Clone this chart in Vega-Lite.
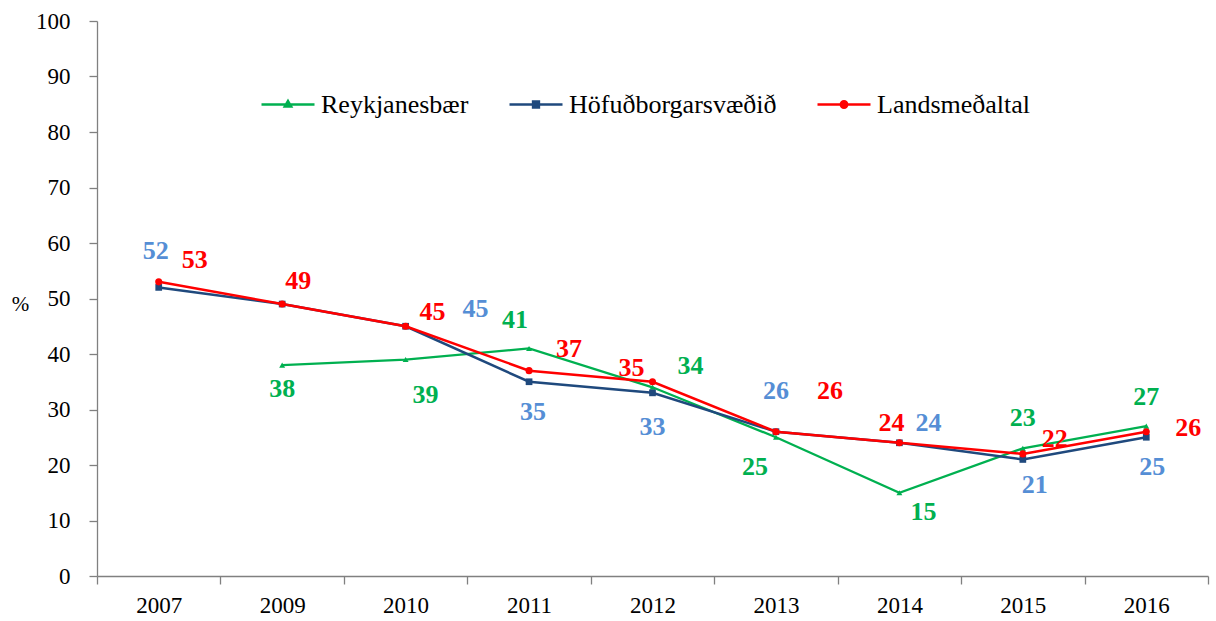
{
  "$schema": "https://vega.github.io/schema/vega-lite/v6.json",
  "width": 1111,
  "height": 555,
  "autosize": {"type": "none"},
  "padding": {"left": 97, "top": 21, "right": 8, "bottom": 45},
  "background": "white",
  "config": {"view": {"stroke": null}, "font": "Liberation Serif"},
  "data": {
    "values": [
      {"series": "Reykjanesbær", "year": "2009", "value": 38},
      {"series": "Reykjanesbær", "year": "2010", "value": 39},
      {"series": "Reykjanesbær", "year": "2011", "value": 41},
      {"series": "Reykjanesbær", "year": "2012", "value": 34},
      {"series": "Reykjanesbær", "year": "2013", "value": 25},
      {"series": "Reykjanesbær", "year": "2014", "value": 15},
      {"series": "Reykjanesbær", "year": "2015", "value": 23},
      {"series": "Reykjanesbær", "year": "2016", "value": 27},
      {"series": "Höfuðborgarsvæðið", "year": "2007", "value": 52},
      {"series": "Höfuðborgarsvæðið", "year": "2009", "value": 49},
      {"series": "Höfuðborgarsvæðið", "year": "2010", "value": 45},
      {"series": "Höfuðborgarsvæðið", "year": "2011", "value": 35},
      {"series": "Höfuðborgarsvæðið", "year": "2012", "value": 33},
      {"series": "Höfuðborgarsvæðið", "year": "2013", "value": 26},
      {"series": "Höfuðborgarsvæðið", "year": "2014", "value": 24},
      {"series": "Höfuðborgarsvæðið", "year": "2015", "value": 21},
      {"series": "Höfuðborgarsvæðið", "year": "2016", "value": 25},
      {"series": "Landsmeðaltal", "year": "2007", "value": 53},
      {"series": "Landsmeðaltal", "year": "2009", "value": 49},
      {"series": "Landsmeðaltal", "year": "2010", "value": 45},
      {"series": "Landsmeðaltal", "year": "2011", "value": 37},
      {"series": "Landsmeðaltal", "year": "2012", "value": 35},
      {"series": "Landsmeðaltal", "year": "2013", "value": 26},
      {"series": "Landsmeðaltal", "year": "2014", "value": 24},
      {"series": "Landsmeðaltal", "year": "2015", "value": 22},
      {"series": "Landsmeðaltal", "year": "2016", "value": 26}
    ]
  },
  "encoding": {
    "x": {
      "field": "year",
      "type": "ordinal",
      "sort": ["2007", "2009", "2010", "2011", "2012", "2013", "2014", "2015", "2016"],
      "scale": {"type": "band", "paddingInner": 0, "paddingOuter": 0, "domain": ["2007", "2009", "2010", "2011", "2012", "2013", "2014", "2015", "2016"]},
      "axis": {
        "title": null,
        "labelAngle": 0,
        "labelFont": "Liberation Serif",
        "labelFontSize": 23,
        "labelColor": "black",
        "tickBand": "extent",
        "tickSize": 8,
        "labelPadding": 10,
        "domainColor": "#808080",
        "tickColor": "#808080",
        "domainWidth": 1.3,
        "tickWidth": 1.3,
        "grid": false
      }
    },
    "y": {
      "field": "value",
      "type": "quantitative",
      "scale": {"domain": [0, 100], "nice": false},
      "axis": {
        "values": [0, 10, 20, 30, 40, 50, 60, 70, 80, 90, 100],
        "title": "%",
        "titleAngle": 0,
        "titleAlign": "center",
        "titleBaseline": "middle",
        "titleX": -77,
        "titleY": 283,
        "titleFont": "Liberation Serif",
        "titleFontSize": 21,
        "titleFontWeight": "normal",
        "titleColor": "black",
        "labelFont": "Liberation Serif",
        "labelFontSize": 23,
        "labelColor": "black",
        "tickSize": 8,
        "labelPadding": 19,
        "domainColor": "#808080",
        "tickColor": "#808080",
        "domainWidth": 1.3,
        "tickWidth": 1.3,
        "grid": false
      }
    }
  },
  "layer": [
    {
      "transform": [{"filter": "datum.series == 'Reykjanesbær'"}],
      "layer": [
        {
          "mark": {"type": "line", "strokeWidth": 2.3},
          "encoding": {
            "color": {
              "field": "series",
              "type": "nominal",
              "scale": {"domain": ["Reykjanesbær", "Höfuðborgarsvæðið", "Landsmeðaltal"], "range": ["#00B050", "#1F497D", "#FF0000"]},
              "legend": {
                "title": null,
                "orient": "none",
                "direction": "horizontal",
                "legendX": 163,
                "legendY": 55.5,
                "symbolSize": 2809,
                "symbolStrokeWidth": 2.5,
                "labelFont": "Liberation Serif",
                "labelFontSize": 26,
                "labelColor": "black",
                "labelLimit": 400,
                "labelOffset": 5,
                "columnPadding": 35,
                "encode": {
                  "symbols": {
                    "update": {
                      "shape": {"signal": "datum.value == 'Reykjanesbær' ? 'M-1,0H1M0,-0.13L0.12,0.08H-0.12Z' : datum.value == 'Höfuðborgarsvæðið' ? 'M-1,0H1M-0.11,-0.11H0.11V0.11H-0.11Z' : 'M-1,0H1M0.12,0A0.12,0.12,0,1,1,-0.12,0A0.12,0.12,0,1,1,0.12,0Z'"},
                      "fill": {"signal": "scale('color', datum.value)"},
                      "stroke": {"signal": "scale('color', datum.value)"},
                      "strokeWidth": {"value": 2.5},
                      "opacity": {"value": 1},
                      "fillOpacity": {"value": 1},
                      "strokeOpacity": {"value": 1}
                    }
                  }
                }
              }
            }
          }
        },
        {
          "mark": {"type": "point", "shape": "triangle-up", "filled": true, "opacity": 1, "size": 35},
          "encoding": {"color": {"field": "series", "type": "nominal"}}
        }
      ]
    },
    {
      "transform": [{"filter": "datum.series == 'Höfuðborgarsvæðið'"}],
      "layer": [
        {
          "mark": {"type": "line", "strokeWidth": 2.5},
          "encoding": {"color": {"field": "series", "type": "nominal"}}
        },
        {
          "mark": {"type": "point", "shape": "square", "filled": true, "opacity": 1, "size": 45},
          "encoding": {"color": {"field": "series", "type": "nominal"}}
        }
      ]
    },
    {
      "transform": [{"filter": "datum.series == 'Landsmeðaltal'"}],
      "layer": [
        {
          "mark": {"type": "line", "strokeWidth": 2.5},
          "encoding": {"color": {"field": "series", "type": "nominal"}}
        },
        {
          "mark": {"type": "point", "shape": "circle", "filled": true, "opacity": 1, "size": 50},
          "encoding": {"color": {"field": "series", "type": "nominal"}}
        }
      ]
    },
    {
      "transform": [
        {"filter": "!(datum.series == 'Höfuðborgarsvæðið' && datum.year == '2009')"},
        {"calculate": "substring(datum.series, 0, 1) + datum.year", "as": "k"}
      ],
      "mark": {
        "type": "text",
        "font": "Liberation Serif",
        "fontSize": 26,
        "fontWeight": "bold",
        "align": "center",
        "baseline": "middle",
        "dx": {"expr": "({'R2009':0,'R2010':20,'R2011':-14,'R2012':38,'R2013':-21,'R2014':24,'R2015':0,'R2016':0,'H2007':-3,'H2010':70,'H2011':4,'H2012':0,'H2013':0,'H2014':29,'H2015':12,'H2016':6,'L2007':36,'L2009':16,'L2010':27,'L2011':40,'L2012':-21,'L2013':54,'L2014':-8,'L2015':32,'L2016':42})[datum.k]"},
        "dy": {"expr": "({'R2009':24,'R2010':35,'R2011':-28,'R2012':-21,'R2013':30,'R2014':19,'R2015':-30,'R2016':-29,'H2007':-36,'H2010':-17,'H2011':30,'H2012':34,'H2013':-41,'H2014':-20,'H2015':26,'H2016':30,'L2007':-22,'L2009':-23,'L2010':-14,'L2011':-22,'L2012':-14,'L2013':-41,'L2014':-20,'L2015':-15,'L2016':-4})[datum.k]"}
      },
      "encoding": {
        "text": {"field": "value", "type": "quantitative"},
        "fill": {
          "field": "series",
          "type": "nominal",
          "scale": {"domain": ["Reykjanesbær", "Höfuðborgarsvæðið", "Landsmeðaltal"], "range": ["#00B050", "#558ED5", "#FF0000"]},
          "legend": null
        }
      }
    }
  ]
}
